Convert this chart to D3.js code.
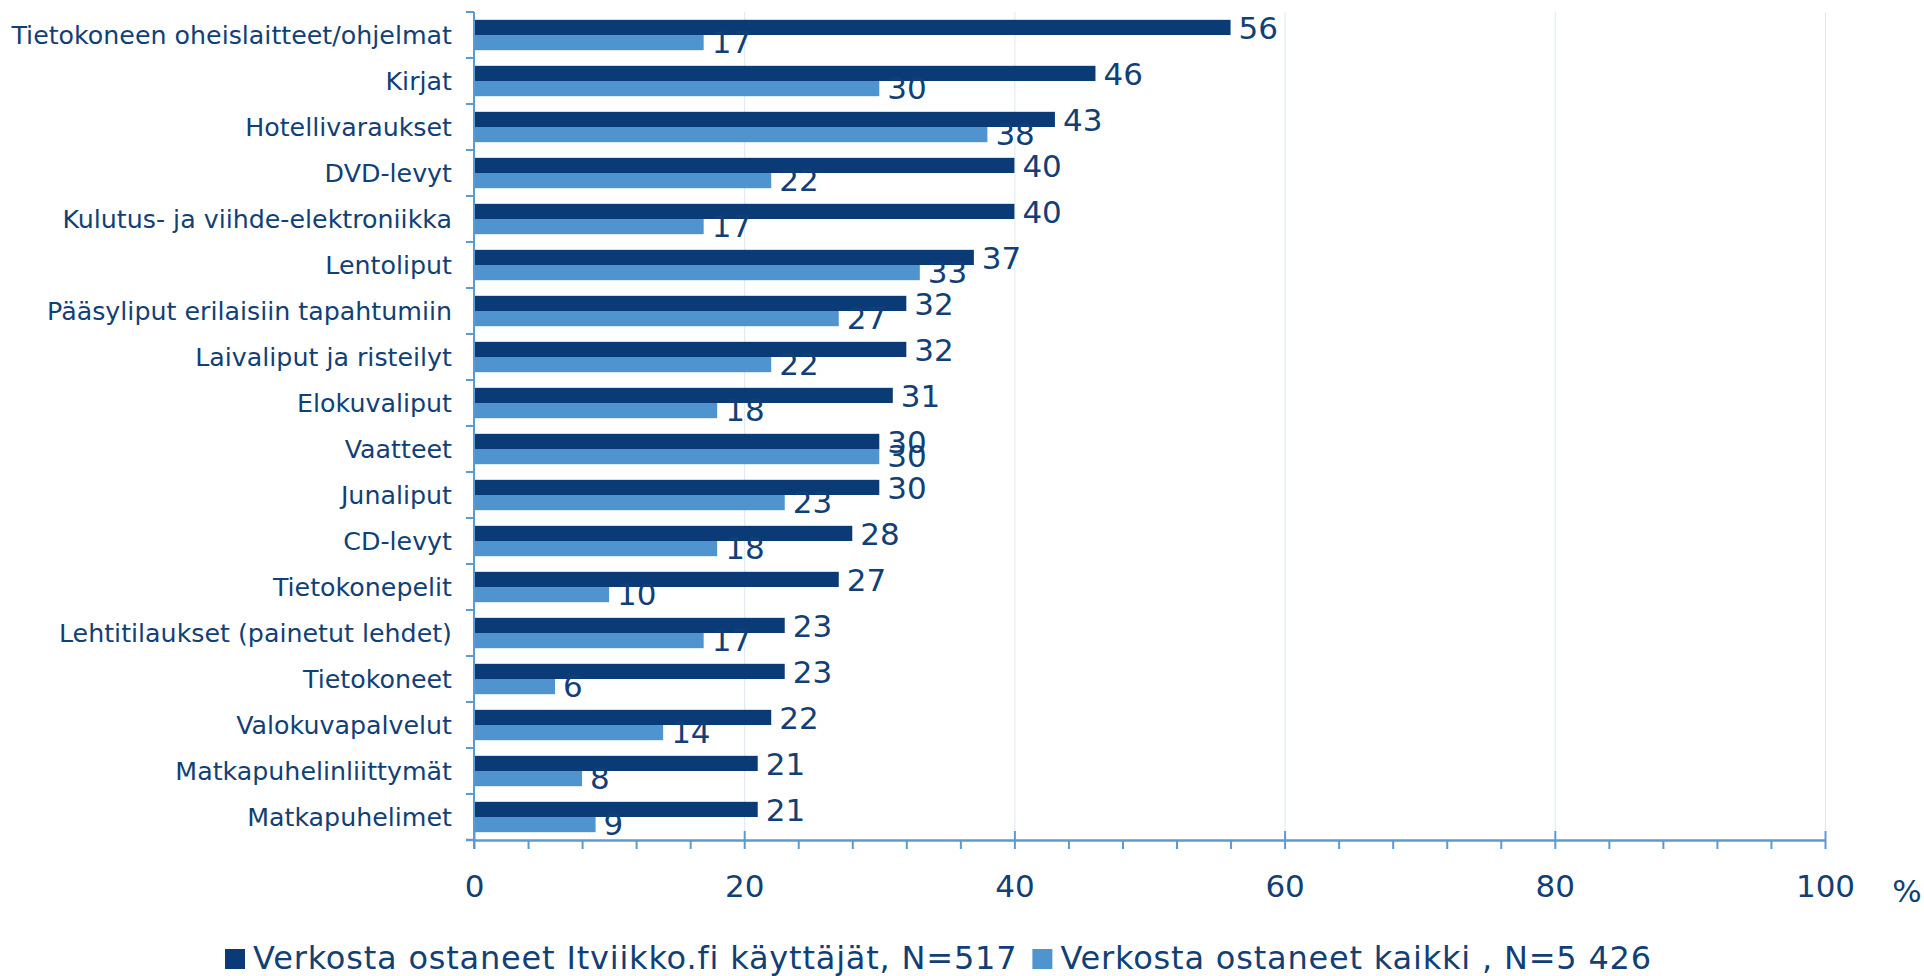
<!DOCTYPE html>
<meta charset="utf-8">
<script src="https://d3js.org/d3.v7.min.js"></script>
<style>
  body { margin: 0; background: #fff; font-family: "DejaVu Sans", Verdana, sans-serif; }
  svg { display: block; }
</style>
<div id="chart"></div>
<script>

// chart data
var categories = ["Tietokoneen oheislaitteet/ohjelmat", "Kirjat", "Hotellivaraukset", "DVD-levyt",
  "Kulutus- ja viihde-elektroniikka", "Lentoliput", "Pääsyliput erilaisiin tapahtumiin",
  "Laivaliput ja risteilyt", "Elokuvaliput", "Vaatteet", "Junaliput", "CD-levyt",
  "Tietokonepelit", "Lehtitilaukset (painetut lehdet)", "Tietokoneet", "Valokuvapalvelut",
  "Matkapuhelinliittymät", "Matkapuhelimet"]
var itviikko = [56, 46, 43, 40, 40, 37, 32, 32, 31, 30, 30, 28, 27, 23, 23, 22, 21, 21]
var kaikki = [17, 30, 38, 22, 17, 33, 27, 22, 18, 30, 23, 18, 10, 17, 6, 14, 8, 9]
var seriesNames = ["Verkosta ostaneet Itviikko.fi käyttäjät, N=517", "Verkosta ostaneet kaikki , N=5 426"]
var majorTicks = [0, 20, 40, 60, 80, 100]
var minorTicks = [4, 8, 12, 16, 24, 28, 32, 36, 44, 48, 52, 56, 64, 68, 72, 76, 84, 88, 92, 96]

var width = 1924, height = 976
var darkBlue = "#0a3b77", lightBlue = "#4f94cf", textColor = "#123f75", axisColor = "#5b9bd5"

var svg = d3.select("#chart").append("svg")
  .attr("width", width)
  .attr("height", height)

var x = d3.scaleLinear()
  .domain([0, 100])
  .range([474, 1825])

var y = d3.scaleBand()
  .domain(categories)
  .range([12, 840])

var bw = y.bandwidth()
var barH = bw * 0.33
var barOff = bw * 0.17

// gridlines
svg.append("g")
  .selectAll("line")
  .data(majorTicks.slice(1))
  .enter()
  .append("line")
    .attr("x1", function(d){ return x(d) + 0.5 })
    .attr("x2", function(d){ return x(d) + 0.5 })
    .attr("y1", y.range()[0])
    .attr("y2", y.range()[1])
    .attr("stroke", "#dce7f3")
    .attr("stroke-width", 1)

// bars
var rows = svg.append("g")
  .selectAll("g")
  .data(categories)
  .enter()
  .append("g")
  .attr("transform", function(d){ return "translate(0," + y(d) + ")" })

rows.append("rect")
  .attr("x", x(0))
  .attr("y", barOff)
  .attr("width", function(d, i){ return x(itviikko[i]) - x(0) })
  .attr("height", barH)
  .attr("fill", darkBlue)

rows.append("rect")
  .attr("x", x(0))
  .attr("y", barOff + barH)
  .attr("width", function(d, i){ return x(kaikki[i]) - x(0) })
  .attr("height", barH)
  .attr("fill", lightBlue)

// value labels
rows.append("text")
  .attr("x", function(d, i){ return x(itviikko[i]) + 8 })
  .attr("y", barOff + barH / 2 + 1)
  .attr("dominant-baseline", "central")
  .style("font-size", "31px")
  .attr("fill", textColor)
  .text(function(d, i){ return itviikko[i] })

rows.append("text")
  .attr("x", function(d, i){ return x(kaikki[i]) + 8 })
  .attr("y", barOff + barH * 1.5 - 1)
  .attr("dominant-baseline", "central")
  .style("font-size", "31px")
  .attr("fill", textColor)
  .text(function(d, i){ return kaikki[i] })

// category labels
rows.append("text")
  .attr("x", 452)
  .attr("y", bw / 2)
  .attr("dominant-baseline", "central")
  .attr("text-anchor", "end")
  .style("font-size", "25.3px")
  .attr("fill", textColor)
  .text(function(d){ return d })

// y axis line and ticks at band edges
var yAxis = svg.append("g")
yAxis.append("line")
  .attr("x1", x(0)).attr("x2", x(0))
  .attr("y1", y.range()[0]).attr("y2", y.range()[1] + 9)
  .attr("stroke", axisColor)
  .attr("stroke-width", 2)

yAxis.selectAll(".ytick")
  .data(categories.map(function(c){ return y(c) }).concat([y.range()[1]]))
  .enter()
  .append("line")
    .attr("class", "ytick")
    .attr("x1", x(0) - 8).attr("x2", x(0))
    .attr("y1", function(d){ return d }).attr("y2", function(d){ return d })
    .attr("stroke", axisColor)
    .attr("stroke-width", 2)

// x axis
var axisY = y.range()[1]

var xAxis = svg.append("g")
  .attr("transform", "translate(0," + axisY + ")")
  .call(d3.axisBottom(x).tickValues(majorTicks).tickSize(9).tickSizeOuter(0))

xAxis.select(".domain").attr("stroke", axisColor).attr("stroke-width", 2.5)
xAxis.selectAll(".tick line")
  .attr("stroke", axisColor)
  .attr("stroke-width", 2)
  .attr("y1", -9)
xAxis.selectAll(".tick text")
  .attr("y", 57)
  .attr("dy", 0)
  .style("font-size", "31px")
  .style("font-family", "DejaVu Sans, Verdana, sans-serif")
  .attr("fill", textColor)

xAxis.append("line")
  .attr("x1", x(0) - 8).attr("x2", x(0))
  .attr("stroke", axisColor)
  .attr("stroke-width", 2.5)

var minorAxis = svg.append("g")
  .attr("transform", "translate(0," + axisY + ")")
  .call(d3.axisBottom(x).tickValues(minorTicks).tickSize(9).tickSizeOuter(0).tickFormat(""))
minorAxis.select(".domain").remove()
minorAxis.selectAll(".tick line").attr("stroke", axisColor).attr("stroke-width", 2)

svg.append("text")
  .attr("x", 1907)
  .attr("y", 902)
  .attr("text-anchor", "middle")
  .style("font-size", "31px")
  .attr("fill", textColor)
  .text("%")

// legend
var legend = svg.append("g")
var t1 = legend.append("text")
  .attr("x", 253)
  .attr("y", 969)
  .style("font-size", "32px")
  .style("letter-spacing", "0.8px")
  .attr("fill", textColor)
  .text(seriesNames[0])
legend.append("rect")
  .attr("x", 225).attr("y", 949)
  .attr("width", 20).attr("height", 20)
  .attr("fill", darkBlue)

var x2 = 253 + t1.node().getComputedTextLength() + 15
legend.append("rect")
  .attr("x", x2).attr("y", 949)
  .attr("width", 20).attr("height", 20)
  .attr("fill", lightBlue)
legend.append("text")
  .attr("x", x2 + 28)
  .attr("y", 969)
  .style("font-size", "32px")
  .style("letter-spacing", "0.8px")
  .attr("fill", textColor)
  .text(seriesNames[1])

</script>
